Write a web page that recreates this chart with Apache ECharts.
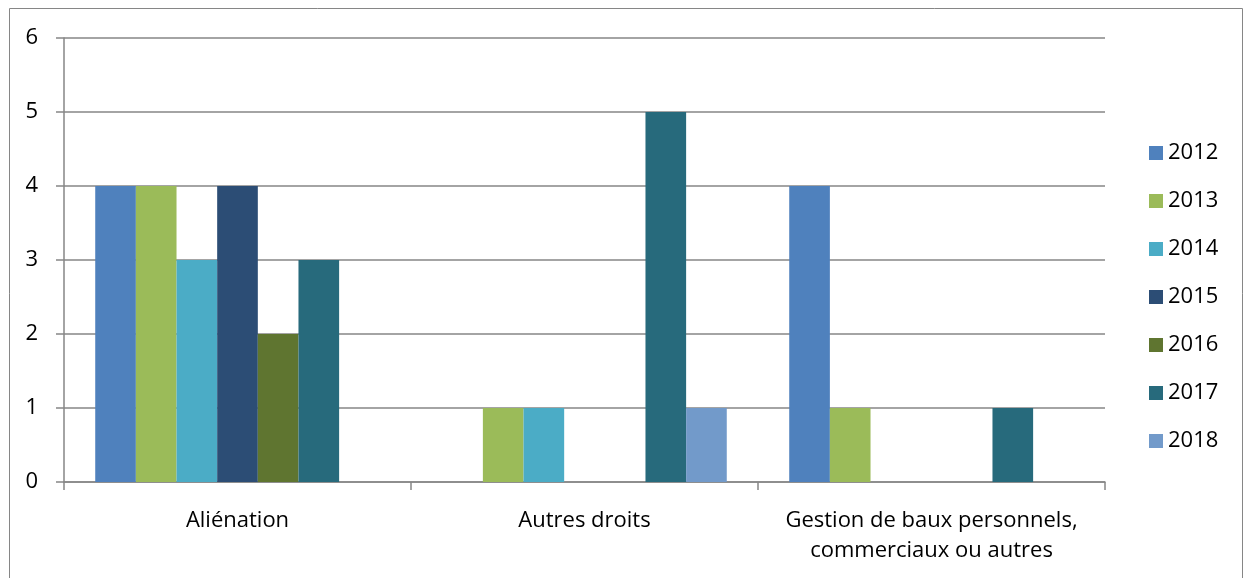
<!DOCTYPE html>
<html>
<head>
<meta charset="utf-8">
<script src="https://cdn.jsdelivr.net/npm/echarts@6/dist/echarts.min.js"></script>
<style>
  html, body { margin: 0; padding: 0; background: #fff; }
  #chart { width: 1249px; height: 578px; }
</style>
</head>
<body>
<div id="chart"></div>
<script>
var categories = ['Aliénation', 'Autres droits', 'Gestion de baux personnels,\ncommerciaux ou autres'];
var years = ['2012', '2013', '2014', '2015', '2016', '2017', '2018'];
var colors = ['#4F81BD', '#9BBB59', '#4BACC6', '#2C4D75', '#5F7530', '#276A7C', '#729ACA'];
var values2012 = [4, 0, 4];
var values2013 = [4, 1, 1];
var values2014 = [3, 1, 0];
var values2015 = [4, 0, 0];
var values2016 = [2, 0, 0];
var values2017 = [3, 5, 1];
var values2018 = [0, 1, 0];
var allValues = [values2012, values2013, values2014, values2015, values2016, values2017, values2018];

var chart = echarts.init(document.getElementById('chart'));
var font = '"Open Sans", sans-serif';

var series = years.map(function (y, i) {
    return {
        name: y,
        type: 'bar',
        barGap: '0%',
        barCategoryGap: '18%',
        itemStyle: { color: colors[i] },
        data: allValues[i]
    };
});

chart.setOption({
    backgroundColor: '#fff',
    animation: false,
    graphic: [{
        type: 'rect',
        shape: { x: 9.5, y: 8.5, width: 1233, height: 600 },
        style: { fill: 'none', stroke: '#868686', lineWidth: 1 },
        silent: true
    }],
    grid: { left: 64, right: 144, top: 38, bottom: 96 },
    legend: {
        orient: 'vertical',
        left: 1144,
        top: 137,
        itemWidth: 14,
        itemHeight: 14,
        itemGap: 26,
        icon: 'rect',
        textStyle: { fontFamily: font, fontSize: 22, color: '#000', lineHeight: 22 },
        data: years
    },
    xAxis: {
        type: 'category',
        data: categories,
        axisLine: { lineStyle: { color: '#868686', width: 1.5 } },
        axisTick: { show: true, length: 8, lineStyle: { color: '#868686', width: 1.5 } },
        axisLabel: {
            fontFamily: font, fontSize: 22, color: '#000',
            lineHeight: 30, margin: 24, interval: 0
        }
    },
    yAxis: {
        type: 'value',
        min: 0, max: 6, interval: 1,
        axisLine: { show: true, lineStyle: { color: '#868686', width: 1.5 } },
        axisTick: { show: true, length: 8, lineStyle: { color: '#868686', width: 1.5 } },
        splitLine: { lineStyle: { color: '#868686', width: 1.5 } },
        axisLabel: { fontFamily: font, fontSize: 22, color: '#000', margin: 26 }
    },
    series: series
});
</script>
</body>
</html>
